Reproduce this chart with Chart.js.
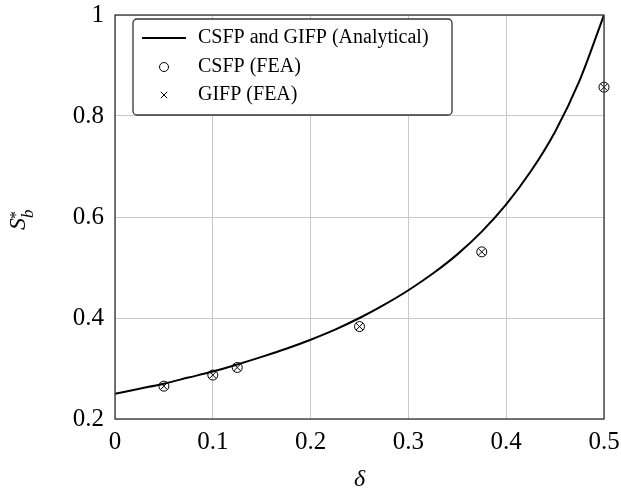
<!DOCTYPE html>
<html lang="en">
<head>
  <meta charset="UTF-8">
  <title>S_b* vs delta</title>
  <style>
    body {
      margin: 0;
      padding: 0;
      background-color: #fff;
    }

    .container {
      width: 621px;
      height: 491px;
    }
  </style>
</head>
<body>
  <div class="container">
    <canvas id="sb-chart" width="621" height="491"></canvas>
  </div>

  <script src="https://cdn.jsdelivr.net/npm/chart.js"></script>
  <script>
    // Analytical curve
    const curveDelta = [0, 0.025, 0.05, 0.075, 0.1, 0.125, 0.15, 0.175, 0.2, 0.225, 0.25,
      0.275, 0.3, 0.325, 0.35, 0.375, 0.4, 0.425, 0.45, 0.475, 0.5];
    const curveSb = [0.25, 0.26, 0.27, 0.282, 0.294, 0.308, 0.323, 0.339, 0.357, 0.377, 0.4,
      0.426, 0.455, 0.488, 0.526, 0.571, 0.625, 0.69, 0.769, 0.87, 1.0];

    // FEA points
    const feaDelta = [0.05, 0.1, 0.125, 0.25, 0.375, 0.5];
    const csfpSb = [0.265, 0.287, 0.302, 0.383, 0.531, 0.857];
    const gifpSb = [0.265, 0.287, 0.302, 0.383, 0.531, 0.857];

    const xTicks = [0, 0.1, 0.2, 0.3, 0.4, 0.5];
    const yTicks = [0.2, 0.4, 0.6, 0.8, 1];

    const legendLabels = ['CSFP and GIFP (Analytical)', 'CSFP (FEA)', 'GIFP (FEA)'];

    const serif = "'Liberation Serif', 'DejaVu Serif', serif";

    const toPoints = (xs, ys) => xs.map((x, i) => ({ x: x, y: ys[i] }));

    // keep the plot box where the reference has it
    function fixScale(scale, size) {
      if (scale.isHorizontal()) scale.height = size;
      else scale.width = size;
      scale.paddingTop = 0;
      scale.paddingBottom = 0;
      scale.paddingLeft = 0;
      scale.paddingRight = 0;
    }

    // Frame, legend box and axis titles
    const decorPlugin = {
      id: 'decor',
      afterDatasetsDraw(chart) {
        const ctx = chart.ctx;
        const area = chart.chartArea;

        // plot frame
        ctx.save();
        ctx.strokeStyle = '#333';
        ctx.lineWidth = 1.3;
        ctx.strokeRect(area.left, area.top, area.right - area.left, area.bottom - area.top);
        ctx.restore();

        // legend
        const bx = 133, by = 19, bw = 319, bh = 96;
        ctx.save();
        ctx.beginPath();
        ctx.roundRect(bx, by, bw, bh, 4);
        ctx.fillStyle = '#fff';
        ctx.fill();
        ctx.strokeStyle = '#333';
        ctx.lineWidth = 1.3;
        ctx.stroke();

        const rows = [38, 67, 95];
        const mx = 164;
        ctx.strokeStyle = '#000';

        ctx.lineWidth = 2;
        ctx.beginPath();
        ctx.moveTo(142, rows[0]);
        ctx.lineTo(186, rows[0]);
        ctx.stroke();

        ctx.lineWidth = 1;
        ctx.beginPath();
        ctx.arc(mx, rows[1], 4.5, 0, Math.PI * 2);
        ctx.stroke();

        const c = 3.2;
        ctx.beginPath();
        ctx.moveTo(mx - c, rows[2] - c);
        ctx.lineTo(mx + c, rows[2] + c);
        ctx.moveTo(mx + c, rows[2] - c);
        ctx.lineTo(mx - c, rows[2] + c);
        ctx.stroke();

        ctx.fillStyle = '#000';
        ctx.font = '20px ' + serif;
        ctx.textAlign = 'left';
        ctx.textBaseline = 'middle';
        legendLabels.forEach((t, i) => ctx.fillText(t, 198, rows[i]));
        ctx.restore();

        // x axis title
        ctx.save();
        ctx.fillStyle = '#000';
        ctx.font = 'italic 24px ' + serif;
        ctx.textAlign = 'center';
        ctx.textBaseline = 'alphabetic';
        ctx.fillText('δ', (area.left + area.right) / 2, 486);
        ctx.restore();

        // y axis title S_b^*
        ctx.save();
        ctx.translate(25, 218);
        ctx.rotate(-Math.PI / 2);
        ctx.fillStyle = '#000';
        ctx.textAlign = 'left';
        ctx.textBaseline = 'alphabetic';
        ctx.font = 'italic 24px ' + serif;
        ctx.fillText('S', -12, 0);
        ctx.font = 'italic 17px ' + serif;
        ctx.fillText('b', 0, 8);
        ctx.font = '16px ' + serif;
        ctx.fillText('*', -1, -4);
        ctx.restore();
      }
    };

    const ctx = document.getElementById('sb-chart').getContext('2d');
    const sbChart = new Chart(ctx, {
      type: 'scatter',
      data: {
        datasets: [{
          label: legendLabels[0],
          data: toPoints(curveDelta, curveSb),
          showLine: true,
          borderColor: '#000',
          borderWidth: 2,
          pointRadius: 0,
          cubicInterpolationMode: 'monotone'
        }, {
          label: legendLabels[1],
          data: toPoints(feaDelta, csfpSb),
          pointStyle: 'circle',
          pointRadius: 5,
          borderColor: '#000',
          backgroundColor: 'rgba(0,0,0,0)',
          borderWidth: 1,
          clip: false
        }, {
          label: legendLabels[2],
          data: toPoints(feaDelta, gifpSb),
          pointStyle: 'crossRot',
          pointRadius: 5,
          borderColor: '#000',
          borderWidth: 1,
          clip: false
        }]
      },
      options: {
        responsive: false,
        animation: false,
        layout: {
          padding: { top: 15, right: 17, left: 0, bottom: 0 }
        },
        plugins: {
          legend: { display: false },
          tooltip: { enabled: false }
        },
        scales: {
          x: {
            type: 'linear',
            min: 0,
            max: 0.5,
            afterBuildTicks: (scale) => { scale.ticks = xTicks.map(v => ({ value: v })); },
            afterFit: (scale) => fixScale(scale, 72),
            grid: { color: '#c8c8c8', lineWidth: 1, drawTicks: false },
            border: { display: false },
            ticks: {
              padding: 8,
              color: '#000',
              font: { family: serif, size: 25 },
              callback: (v) => String(+v.toFixed(1))
            }
          },
          y: {
            type: 'linear',
            min: 0.2,
            max: 1,
            afterBuildTicks: (scale) => { scale.ticks = yTicks.map(v => ({ value: v })); },
            afterFit: (scale) => fixScale(scale, 115),
            grid: { color: '#c8c8c8', lineWidth: 1, drawTicks: false },
            border: { display: false },
            ticks: {
              padding: 11,
              color: '#000',
              font: { family: serif, size: 25 },
              callback: (v) => String(+v.toFixed(1))
            }
          }
        }
      },
      plugins: [decorPlugin]
    });
  </script>
</body>
</html>
